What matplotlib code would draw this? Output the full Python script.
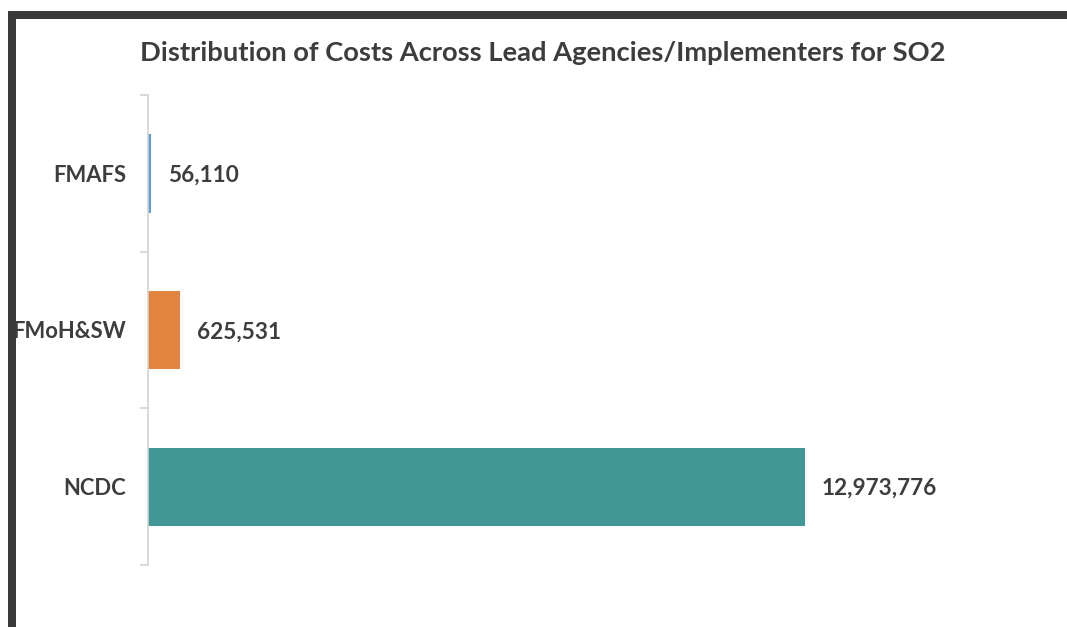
import matplotlib
matplotlib.use("Agg")
import matplotlib.pyplot as plt
from matplotlib.patches import Rectangle

categories = ["FMAFS", "FMoH&SW", "NCDC"]
values = [56110, 625531, 12973776]
colors = ["#5b9fd6", "#e08440", "#419796"]
title = "Distribution of Costs Across Lead Agencies/Implementers for SO2"

W, H = 1067, 627
fig = plt.figure(figsize=(W / 100, H / 100), dpi=100)
fig.patch.set_facecolor("white")

text_color = "#3d3d3d"
font = "Lato"

# dark frame (screenshot border)
fig.add_artist(Rectangle((8 / W, 1 - 19 / H), 1.0, 8 / H, transform=fig.transFigure,
                         facecolor="#3a3a3a", edgecolor="none"))
fig.add_artist(Rectangle((8 / W, 0), 8 / W, 1 - 11 / H, transform=fig.transFigure,
                         facecolor="#3a3a3a", edgecolor="none"))

ax_left = 148 / W
ax_width_px = 850
ax = fig.add_axes([ax_left, 1 - 565 / H, ax_width_px / W, (565 - 95) / H])
xmax = values[2] * ax_width_px / 657
ypos = list(range(len(categories)))
ax.barh(ypos, values, height=0.5, color=colors)
ax.set_xlim(0, xmax)
ax.set_ylim(len(categories) - 0.5, -0.5)

for y, v in zip(ypos, values):
    ax.annotate(f"{v:,}", xy=(v, y), xytext=(17, -2), textcoords="offset pixels",
                va="center", ha="left", fontsize=16.3, fontweight="bold",
                color=text_color, family=font)

for s in ["top", "right", "bottom"]:
    ax.spines[s].set_visible(False)
ax.spines["left"].set_color("#d3d3d3")
ax.spines["left"].set_linewidth(1.2)
ax.set_xticks([])
ax.set_yticks(ypos)
ax.set_yticklabels(categories, fontsize=15.8, fontweight="bold", color=text_color, family=font)
ax.tick_params(axis="y", which="major", length=0, pad=16)
ax.set_yticks([-0.5, 0.5, 1.5, 2.5], minor=True)
ax.tick_params(axis="y", which="minor", length=6, color="#d3d3d3", width=1.2)

fig.text(543 / W, 1 - 53 / H, title, ha="center", va="center", fontsize=19.7,
         fontweight="bold", color=text_color, family=font)

fig.savefig("out.png", dpi=100, facecolor="white")
